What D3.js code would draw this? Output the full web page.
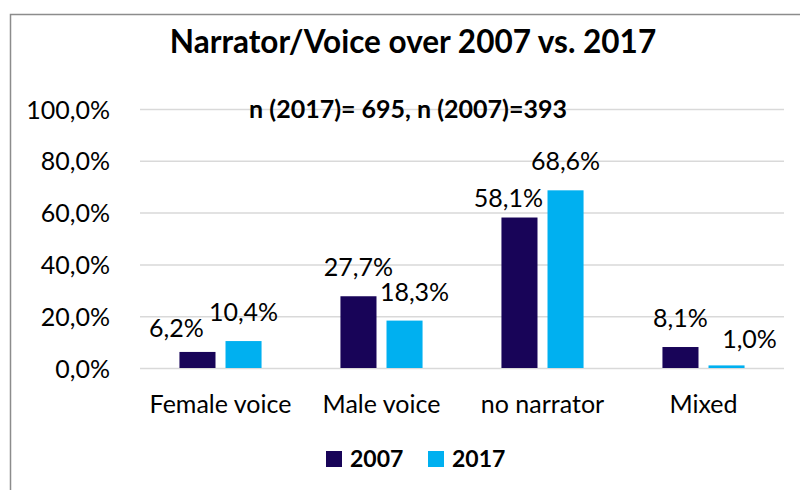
<!DOCTYPE html>
<html>
<head>
<meta charset="utf-8">
<script src="https://cdn.jsdelivr.net/npm/d3@7"></script>
<style>
  html, body { margin: 0; padding: 0; background: #ffffff; }
  svg { display: block; }
  text { font-family: Lato, "Open Sans", "DejaVu Sans", sans-serif; fill: #000; }
</style>
</head>
<body>
<svg id="chart" width="800" height="490"></svg>
<script>
// ---- data ----
const categories = ["Female voice", "Male voice", "no narrator", "Mixed"];
const seriesNames = ["2007", "2017"];
const values2007 = [6.2, 27.7, 58.1, 8.1];
const values2017 = [10.4, 18.3, 68.6, 1.0];
const yTicks = [0, 20, 40, 60, 80, 100];
const titleText = "Narrator/Voice over 2007 vs. 2017";
const subtitleText = "n (2017)= 695, n (2007)=393";

// ---- styles ----
const colors = { "2007": "#180458", "2017": "#00B0F0" };
// manual label nudges (dx, dy) per series/category, as in the original chart
const labelNudge2007 = [[-21, 5], [0, 0], [-11, 9], [0, 0]];
const labelNudge2017 = [[0, 0], [10, 0], [0, 0], [23, 3]];

const svg = d3.select("#chart");
const W = 800, H = 490;
const plot = { left: 140, right: 784, top: 109, bottom: 368 };

svg.append("rect").attr("x", 0).attr("y", 0).attr("width", W).attr("height", H).attr("fill", "#fff");
// outer chart border
svg.append("rect").attr("x", 10.5).attr("y", 14.5).attr("width", 820).attr("height", 520)
  .attr("fill", "none").attr("stroke", "#8c8c8c").attr("stroke-width", 1.5);

const locale = d3.formatLocale({ decimal: ",", thousands: ".", grouping: [3], currency: ["", "€"] });
const fmt = locale.format(".1f");

const x0 = d3.scaleBand().domain(categories).range([plot.left, plot.right])
  .paddingInner(0.49).paddingOuter(0.245);
const x1 = d3.scaleBand().domain(seriesNames).range([0, x0.bandwidth()]).paddingInner(10 / 46);
const y = d3.scaleLinear().domain([0, 100]).range([plot.bottom, plot.top]);

// gridlines + y labels
const yAxis = d3.axisLeft(y).tickValues(yTicks)
  .tickFormat(d => fmt(d) + "%")
  .tickSizeInner(-(plot.right - plot.left)).tickSizeOuter(0).tickPadding(30);
const gy = svg.append("g").attr("transform", `translate(${plot.left},0)`).call(yAxis);
gy.select(".domain").remove();
gy.selectAll(".tick line").attr("stroke", "#d9d9d9").attr("stroke-width", 1.5);
gy.selectAll(".tick text").attr("font-size", 25).attr("font-family", "Lato, sans-serif")
  .attr("fill", "#000").attr("dy", "0.36em");

// x labels
const xAxis = d3.axisBottom(x0).tickSize(0).tickPadding(0);
const gx = svg.append("g").attr("transform", `translate(0,${plot.bottom})`).call(xAxis);
gx.select(".domain").remove();
gx.selectAll(".tick text").attr("font-size", 25).attr("font-family", "Lato, sans-serif")
  .attr("fill", "#000").attr("dy", 0).attr("y", 45);

// title & subtitle
svg.append("text").attr("x", 413).attr("y", 53).attr("text-anchor", "middle")
  .attr("font-size", 31.5).attr("font-weight", "bold").text(titleText);
svg.append("text").attr("x", 408).attr("y", 118).attr("text-anchor", "middle")
  .attr("font-size", 25).attr("font-weight", "bold").text(subtitleText);

// bars
const rows = categories.map((c, i) => ({
  cat: c,
  vals: [
    { s: "2007", v: values2007[i], n: labelNudge2007[i] },
    { s: "2017", v: values2017[i], n: labelNudge2017[i] }
  ]
}));
const groups = svg.append("g").selectAll("g").data(rows).join("g")
  .attr("transform", d => `translate(${x0(d.cat)},0)`);
groups.selectAll("rect").data(d => d.vals).join("rect")
  .attr("x", d => x1(d.s)).attr("width", x1.bandwidth())
  .attr("y", d => y(d.v)).attr("height", d => y(0) - y(d.v))
  .attr("fill", d => colors[d.s]);
groups.selectAll("text").data(d => d.vals).join("text")
  .attr("x", d => x1(d.s) + x1.bandwidth() / 2 + d.n[0])
  .attr("y", d => y(d.v) - 20 + d.n[1])
  .attr("text-anchor", "middle").attr("font-size", 25)
  .text(d => fmt(d.v) + "%");

// legend
const legendX = [326, 428];
const lg = svg.append("g").selectAll("g").data(seriesNames).join("g")
  .attr("transform", (d, i) => `translate(${legendX[i]},451)`);
lg.append("rect").attr("width", 16).attr("height", 16).attr("fill", d => colors[d]);
lg.append("text").attr("x", 24).attr("y", 16).attr("font-size", 23).attr("font-weight", "bold").text(d => d);
</script>
</body>
</html>
